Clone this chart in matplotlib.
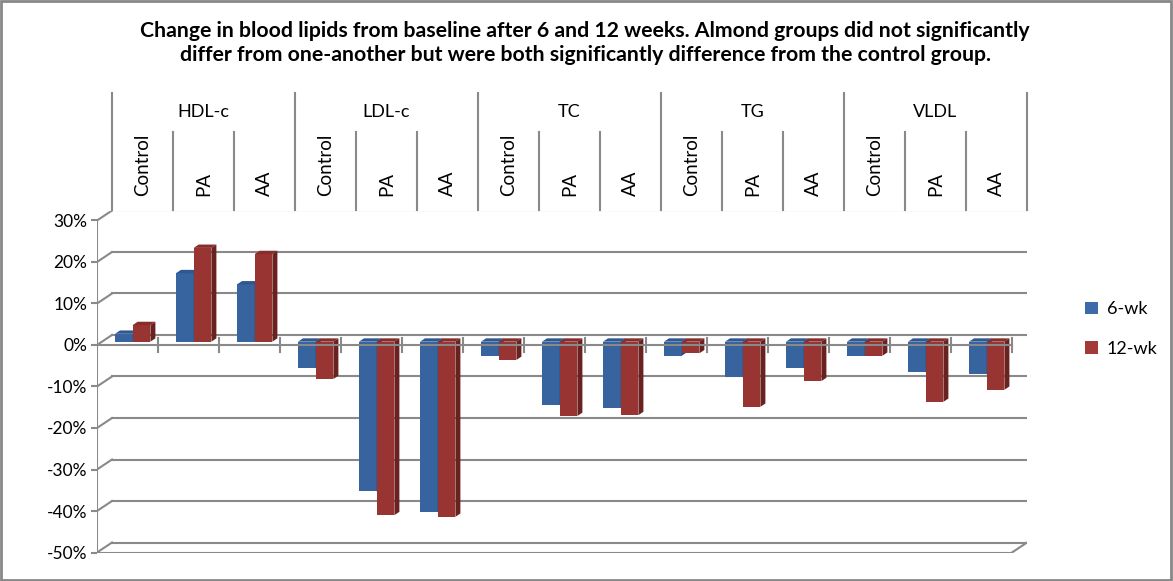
import matplotlib
matplotlib.use('Agg')
import matplotlib.pyplot as plt
import matplotlib.transforms as mtransforms
from matplotlib.patches import Polygon, Patch, Rectangle
from matplotlib.ticker import FuncFormatter

plt.rcParams['font.family'] = ['Lato', 'DejaVu Sans']

groups = ['HDL-c', 'LDL-c', 'TC', 'TG', 'VLDL']
subgroups = ['Control', 'PA', 'AA']
wk6 = [1.9, 16.5, 13.8, -6.4, -36.1, -41.0, -3.4, -15.3, -15.9,
       -3.4, -8.6, -6.4, -3.4, -7.4, -7.9]
wk12 = [4.0, 22.6, 21.1, -9.0, -41.8, -42.2, -4.4, -17.9, -17.7,
        -2.8, -15.7, -9.5, -3.4, -14.5, -11.6]
series = ['6-wk', '12-wk']
y_ticks = list(range(-50, 31, 10))

W, H = 1173, 581
grid_c = '#898989'
front_c = ['#37639F', '#983432']
top_c = ['#2F5891', '#872D2B']
side_c = ['#29497A', '#692220']
legend_c = ['#3D6AA8', '#A33A37']

# pixel geometry of the fake 3D box
PX_CAT = 61.0      # px per category on the front axis
PX_PCT = 4.15      # px per 1 %
DX = 15 / PX_CAT   # full depth offset
DY = 10 / PX_PCT
n_cat = len(wk6)

fig = plt.figure(figsize=(W / 100, H / 100), dpi=100)
ax_top_px, ax_bot_px = 210.5, 552.5
ax = fig.add_axes([97 / W, (H - ax_bot_px) / H, 930 / W, (ax_bot_px - ax_top_px) / H])
ax.set_xlim(0, 930 / PX_CAT)
ax.set_ylim(-50, -50 + (ax_bot_px - ax_top_px) / PX_PCT)
for s in ax.spines.values():
    s.set_visible(False)
ax.set_xticks([])
ax.set_yticks(y_ticks)
ax.yaxis.set_major_formatter(FuncFormatter(lambda v, p: f'{v:.0f}%'))
ax.tick_params(axis='y', length=4, width=1.5, color=grid_c, pad=3, labelsize=12.5)

lw = 1.5
# back wall + left wall gridlines
for v in y_ticks:
    ax.plot([DX, n_cat + DX], [v + DY, v + DY], color=grid_c, lw=lw, zorder=1)
    ax.plot([0, DX], [v, v + DY], color=grid_c, lw=lw, zorder=1)
ax.plot([0, 0], [-50, 30], color=grid_c, lw=lw, zorder=1)
ax.plot([0, n_cat], [-50, -50], color=grid_c, lw=lw, zorder=1)
ax.plot([n_cat, n_cat + DX], [-50, -50 + DY], color=grid_c, lw=lw, zorder=1)

# bars
bar_w = 17.7 / PX_CAT
x0_off = 18 / PX_CAT
ddx, ddy = DX / 3, DY / 3
base = DY / 3
for k, vals in enumerate([wk6, wk12]):
    xs = [i + x0_off + k * bar_w for i in range(n_cat)]
    ax.bar(xs, vals, width=bar_w, bottom=base, align='edge',
           color=front_c[k], linewidth=0, zorder=2 + k * 0.1)
    for x, v in zip(xs, vals):
        lo, hi = min(base, base + v), max(base, base + v)
        top = Polygon([(x, hi), (x + bar_w, hi), (x + bar_w + ddx, hi + ddy), (x + ddx, hi + ddy)],
                      closed=True, facecolor=top_c[k], edgecolor='none', zorder=2 + k * 0.1)
        side = Polygon([(x + bar_w, lo), (x + bar_w, hi), (x + bar_w + ddx, hi + ddy),
                        (x + bar_w + ddx, lo + ddy)],
                       closed=True, facecolor=side_c[k], edgecolor='none', zorder=2 + k * 0.1)
        ax.add_patch(top)
        ax.add_patch(side)

# front category axis at 0
ax.plot([0, n_cat], [0, 0], color=grid_c, lw=lw, zorder=5)
for i in range(1, n_cat + 1):
    ax.plot([i, i], [-1.7, 1.7], color=grid_c, lw=lw, zorder=5)

# multi-level category header above the plot
trans = mtransforms.blended_transform_factory(ax.transData, fig.transFigure)
def fy(py):
    return 1 - py / H

for i in range(n_cat + 1):
    y_start = 93 if i % 3 == 0 else 132
    ax.plot([i + DX, i + DX], [fy(y_start), fy(210)], transform=trans,
            color=grid_c, lw=lw, clip_on=False)
for g, name in enumerate(groups):
    ax.text(3 * g + 1.5 + DX, fy(112), name, transform=trans, ha='center', va='center',
            fontsize=13)
    for j, sub in enumerate(subgroups):
        ax.text(3 * g + j + 0.5 + DX, fy(196), sub, transform=trans, rotation=90,
                ha='center', va='bottom', fontsize=13.5)

fig.text(585 / W, fy(43), 'Change in blood lipids from baseline after 6 and 12 weeks. '
         'Almond groups did not significantly\ndiffer from one-another but were both '
         'significantly difference from the control group.',
         ha='center', va='center', fontsize=15.3, fontweight='bold', linespacing=1.3)

handles = [Patch(facecolor=legend_c[k], edgecolor='none') for k in range(2)]
fig.legend(handles, series, loc='center left', bbox_to_anchor=(1069 / W, fy(329)),
           frameon=False, fontsize=13, handlelength=0.7, handleheight=0.7,
           handletextpad=0.5, labelspacing=1.3)

fig.patches.append(Rectangle((0.001, 0.002), 0.997, 0.996, transform=fig.transFigure,
                             fill=False, edgecolor='#878787', lw=2))

fig.savefig('out.png', dpi=100)
